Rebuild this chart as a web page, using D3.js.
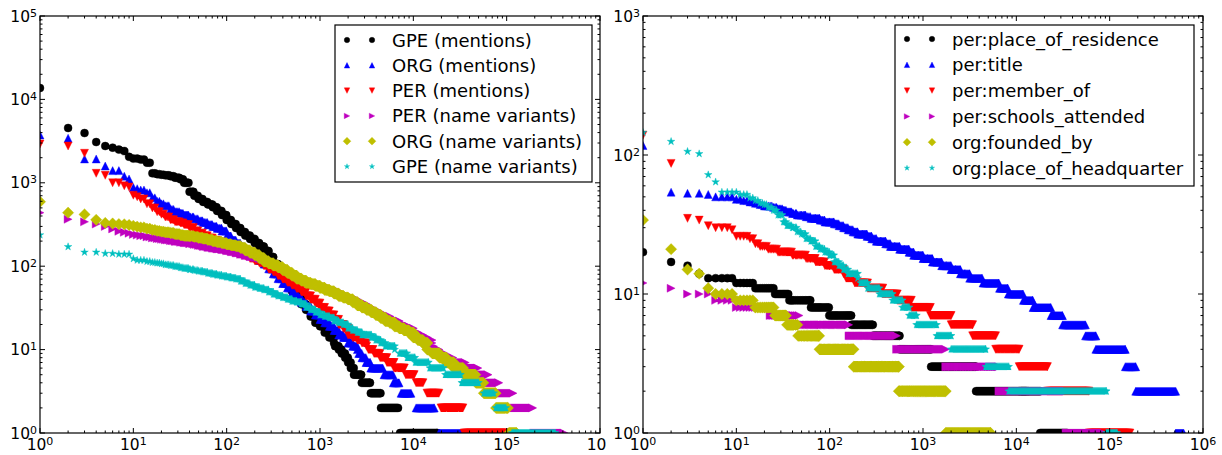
<!DOCTYPE html>
<html><head><meta charset="utf-8">
<script src="https://cdn.jsdelivr.net/npm/d3@7"></script>
<style>body{margin:0;background:#fff}svg{display:block}text{font-family:"DejaVu Sans",sans-serif;fill:#000}</style>
</head><body><svg id="c" width="1222" height="455"></svg>
<script>
// ---------------- DATA ----------------
// shared rank grid for the dense head of each rank-frequency curve
// (each value holds from its grid rank up to the next grid rank - 1)
const rankGrid = [1,2,3,4,5,6,7,8,9,10,11,12,14,16,18,20,22,25,28,32,35,40,45,50,56,63,71,79,89,100,112,126,141,158,178,200,224,251,282,316,355,398,447,501,562,631,708,794,891,1000,1122,1259,1413,1585,1778,1995,2239,2512,2818,3162,3548,3981,4467,5012,5623,6310,7079,7943,8913,10000,11220,12589,14125,15849];

const leftSeriesNames = ["GPE (mentions)","ORG (mentions)","PER (mentions)","PER (name variants)","ORG (name variants)","GPE (name variants)"];
const rightSeriesNames = ["per:place_of_residence","per:title","per:member_of","per:schools_attended","org:founded_by","org:place_of_headquarter"];
const seriesColors = ["#000000","#0000ff","#ff0000","#bf00bf","#bfbf00","#00bfbf"];
const seriesMarkers = ["circle","triangleUp","triangleDown","triangleRight","diamond","star"];
const xTickExponents = [0,1,2,3,4,5,6];
const leftYTickExponents = [0,1,2,3,4,5];
const rightYTickExponents = [0,1,2,3];

// values aligned with rankGrid; runs = [value, fromRank, toRank]
const gpeMentions = [13700,4540,3950,3080,2760,2640,2500,2400,2050,1950,1950,1900,1740,1300,1270,1250,1230,1200,1150,1100,1000,780,700,640,590,550,510,460,410,358,321,287,257,233,212,190,172,152,129,106,90,74,60,50,42,35,30,25,21,19,16,14,12];
const gpeMentionsRuns = [[11,1450,1580],[10,1590,1700],[9,1710,1850],[8,1860,1990],[7,2000,2130],[6,2140,2300],[5,2310,2760],[4,2800,3430],[3,3500,4450],[2,4500,6860],[1,7200,18000]];
const orgMentions = [3740,3420,1930,1930,1590,1400,1400,1200,1110,880,850,820,760,660,600,560,530,480,450,430,410,390,370,350,335,315,300,285,265,230,206,188,171,156,142,129,117,106,93,81,71,62,55,48,42,37,33,29,26,23,21,19,17,15,14,12,11,10];
const orgMentionsRuns = [[9,2600,2800],[8,2810,3100],[7,3110,3450],[6,3500,4700],[5,4850,6060],[4,6100,7030],[3,7380,9440],[2,10700,16700],[1,18800,45000]];
const perMentions = [2920,2760,2260,1300,1230,1000,1000,920,890,710,680,640,560,500,450,420,390,360,340,330,315,290,265,248,231,217,204,194,183,172,162,152,142,133,124,116,109,101,92,85,77,70,64,59,54,49,44,40,36,32,29,26,23,20,18,15,14,13,12,11];
const perMentionsRuns = [[10,3300,3700],[9,3800,4400],[8,4410,5200],[7,5210,6200],[6,6210,8000],[5,8300,10200],[4,10700,12700],[3,14000,18800],[2,19800,34000],[1,34900,100000]];
const perVariants = [438,365,340,320,300,280,262,255,248,240,236,232,224,218,214,210,206,202,198,194,191,187,182,177,172,168,164,161,158,153,149,144,139,134,130,127,124,118,112,105,99,92,86,80,74,70,66,62,59,57,55,52,50,47,44,42,40,37,35,32,30,28,26,25,23,22,20,19,18,16,15,14,13,12];
const perVariantsRuns = [[11,16000,16400],[10,16500,18800],[9,19000,21500],[8,22000,26500],[7,27000,36000],[6,37000,49000],[5,50000,63000],[4,64000,82000],[3,83000,117000],[2,120000,190000],[1,195000,410000]];
const orgVariants = [593,438,418,360,330,325,320,318,312,305,298,292,282,272,265,260,255,250,243,236,232,230,225,219,214,207,200,195,189,183,178,174,166,155,145,136,125,114,108,102,97,90,83,77,71,67,63,61,58,55,52,50,47,44,42,40,37,34,32,30,28,26,24,22,21,19,18,17,16,14,13,12,10];
const orgVariantsRuns = [[9,16000,19000],[8,19100,22500],[7,22600,27000],[6,27100,34000],[5,35000,46000],[4,47000,56000],[3,57000,76000],[2,77000,103000],[1,106000,127000]];
const gpeVariants = [237,171,147,147,142,142,139,139,139,123,118,118,114,111,109,107,104,102,99,96,94,91,89,87,85,82,80,78,76,74,72,70,66,62,59,56,54,52,49,46,44,42,40,38,37,35,32,30,28,26,25,24,22,21,20,18,17,16,15,15,14,13,12,11,11,10];
const gpeVariantsRuns = [[9,7100,8500],[8,8600,10400],[7,10500,14500],[6,15000,21000],[5,22000,32000],[4,33000,50000],[3,57000,72800],[2,76600,98000],[1,114000,330000]];

const placeOfResidence = [20,17,16,14];
const placeOfResidenceRuns = [[13,5,9],[12,10,15],[11,16,25],[10,26,36],[9,37,62],[8,63,98],[7,99,170],[6,171,290],[5,291,560],[4,561,1220],[3,1221,3700],[2,3701,18000],[1,18001,35000]];
const title = [117,54,53,53,52,50,50,50,50,48,48,47,46,45,44,43,43,42,41,40,39,38,37,37,36,35,35,34,33,33,32,31,30,29,28,27,27,26,25,24,24,23,22,22,21,21,20,19,19,18,18,17,17,16,16,15,15,14,14,13];
const titleRuns = [[13,3300,4300],[12,4400,6500],[11,6600,8100],[10,8200,11800],[9,11900,15000],[8,15100,23400],[7,23500,31200],[6,31300,55000],[5,55100,71000],[4,71100,147000],[3,147100,190000],[2,190100,510000],[1,510100,620000]];
const memberOf = [139,87,35,34,31,30,30,30,29,26,26,26,25,23,22,22,21,21,20,20,20,19,19,19,18,18,17,17,16,16,15,15,14];
const memberOfRuns = [[13,150,185],[12,186,255],[11,256,370],[10,371,530],[9,531,750],[8,751,1200],[7,1201,2000],[6,2001,3400],[5,3401,6000],[4,6001,10700],[3,10701,21500],[2,21501,60000],[1,60001,165000]];
const schoolsAttended = [12,11,10,10,10,9,9,9,9];
const schoolsAttendedRuns = [[8,10,22],[7,23,47],[6,48,160],[5,161,520],[4,521,1750],[3,1751,6500],[2,6501,34000],[1,34001,85000]];
const foundedBy = [34,21,15,14,11,10,10,10,10];
const foundedByRuns = [[9,10,15],[8,16,25],[7,26,34],[6,35,45],[5,46,77],[4,78,180],[3,181,550],[2,551,1750],[1,1751,5300]];
const headquarter = [145,125,106,102,72,64,54,54,54,54,52,52,49,47,45,44,42,40,37,33,31,30,28,27,25,24,22,21,20,19,17,16,15,14,14,13];
const headquarterRuns = [[12,215,255],[11,256,340],[10,341,470],[9,471,600],[8,601,710],[7,711,850],[6,851,1400],[5,1401,2000],[4,2001,4700],[3,4701,8300],[2,8301,92000],[1,92001,120000]];

// ---------------- DRAWING ----------------
const svg = d3.select('#c');
svg.append('rect').attr('width',1222).attr('height',455).attr('fill','#fff');
const defs = svg.append('defs');

function markerD(type, cx, cy, s){
  const h = s/2; const f = v => v.toFixed(2);
  switch(type){
    case 'circle': return `M${f(cx+h)},${f(cy)}A${h},${h} 0 1,1 ${f(cx-h)},${f(cy)}A${h},${h} 0 1,1 ${f(cx+h)},${f(cy)}Z`;
    case 'triangleUp': return `M${f(cx)},${f(cy-h)}L${f(cx+h)},${f(cy+h)}L${f(cx-h)},${f(cy+h)}Z`;
    case 'triangleDown': return `M${f(cx)},${f(cy+h)}L${f(cx-h)},${f(cy-h)}L${f(cx+h)},${f(cy-h)}Z`;
    case 'triangleRight': return `M${f(cx+h)},${f(cy)}L${f(cx-h)},${f(cy+h)}L${f(cx-h)},${f(cy-h)}Z`;
    case 'diamond': { const d = s*0.7071; return `M${f(cx)},${f(cy-d)}L${f(cx+d)},${f(cy)}L${f(cx)},${f(cy+d)}L${f(cx-d)},${f(cy)}Z`; }
    case 'star': {
      let p = ''; const R = h, r = h*0.382;
      for (let i=0;i<10;i++){ const a = -Math.PI/2 + i*Math.PI/5; const rr = i%2? r : R;
        p += (i? 'L':'M') + f(cx+rr*Math.cos(a)) + ',' + f(cy+rr*Math.sin(a)); }
      return p + 'Z';
    }
  }
}

// markers at integer ranks of a constant-value stretch, thinned to ~1 px spacing
function pushRun(pts, v, a, b, xs){
  let r = a, last = null;
  while (r <= b){
    pts.push([r,v]); last = r;
    const nr = Math.ceil(xs.invert(xs(r) + 1.0));
    r = Math.max(r+1, nr);
  }
  if (last !== b) pts.push([b,v]);
}

function seriesPoints(values, runs, xs){
  const pts = [];
  const firstRun = runs.length ? runs[0][1] : Infinity;
  values.forEach((v,i) => {
    const a = rankGrid[i];
    const nextR = (i+1 < values.length) ? rankGrid[i+1] - 1 : Math.min(a, firstRun - 1);
    pushRun(pts, v, a, Math.max(a, nextR), xs);
  });
  runs.forEach(([v,a,b]) => pushRun(pts, v, a, b, xs));
  return pts;
}

const panels = [
  { xs: d3.scaleLog().domain([1,1e6]).range([40,600]), ys: d3.scaleLog().domain([1,1e5]).range([433,16]),
    yExps: leftYTickExponents, names: leftSeriesNames,
    data: [[gpeMentions,gpeMentionsRuns],[orgMentions,orgMentionsRuns],[perMentions,perMentionsRuns],[perVariants,perVariantsRuns],[orgVariants,orgVariantsRuns],[gpeVariants,gpeVariantsRuns]],
    legend: {x:335, y:25, w:257, h:157, m1:347, m2:372, tx:392, row0:40, dy:25.3}, fig:[0,606] },
  { xs: d3.scaleLog().domain([1,1e6]).range([643,1203]), ys: d3.scaleLog().domain([1,1e3]).range([433,16]),
    yExps: rightYTickExponents, names: rightSeriesNames,
    data: [[placeOfResidence,placeOfResidenceRuns],[title,titleRuns],[memberOf,memberOfRuns],[schoolsAttended,schoolsAttendedRuns],[foundedBy,foundedByRuns],[headquarter,headquarterRuns]],
    legend: {x:895, y:25, w:299, h:161, m1:907, m2:932, tx:952, row0:39, dy:25.8}, fig:[606,1222] }
];

panels.forEach((P, pi) => {
  const figId = 'fig'+pi, plotId = 'plot'+pi;
  defs.append('clipPath').attr('id', figId).append('rect').attr('x',P.fig[0]).attr('y',0).attr('width',P.fig[1]-P.fig[0]).attr('height',455);
  const [x0,x1] = P.xs.range(); const [y1,y0] = P.ys.range();
  defs.append('clipPath').attr('id', plotId).append('rect').attr('x',x0).attr('y',y0).attr('width',x1-x0).attr('height',y1-y0);
  const g = svg.append('g').attr('clip-path', `url(#${figId})`);

  // markers
  const plot = g.append('g').attr('clip-path', `url(#${plotId})`);
  P.data.forEach(([vals, runs], si) => {
    const pts = seriesPoints(vals, runs, P.xs);
    const d = pts.map(([r,v]) => markerD(seriesMarkers[si], P.xs(r), P.ys(v), 8)).join('');
    plot.append('path').attr('d', d).attr('fill', seriesColors[si]).attr('stroke', seriesColors[si]).attr('stroke-width', 0.4);
  });

  // ticks
  const tk = g.append('g').attr('stroke','#000').attr('stroke-width',1);
  const xMaxExp = 6;
  for (let k=0;k<=xMaxExp;k++){
    for (let m=1;m<=9;m++){
      if (k===xMaxExp && m>1) break;
      const px = P.xs(m*Math.pow(10,k)); const len = m===1?5:2.5;
      tk.append('line').attr('x1',px).attr('x2',px).attr('y1',y1).attr('y2',y1-len);
      tk.append('line').attr('x1',px).attr('x2',px).attr('y1',y0).attr('y2',y0+len);
    }
  }
  const yMaxExp = P.yExps[P.yExps.length-1];
  for (let k=0;k<=yMaxExp;k++){
    for (let m=1;m<=9;m++){
      if (k===yMaxExp && m>1) break;
      const py = P.ys(m*Math.pow(10,k)); const len = m===1?5:2.5;
      tk.append('line').attr('y1',py).attr('y2',py).attr('x1',x0).attr('x2',x0+len);
      tk.append('line').attr('y1',py).attr('y2',py).attr('x1',x1).attr('x2',x1-len);
    }
  }
  // frame
  g.append('rect').attr('x',x0).attr('y',y0).attr('width',x1-x0).attr('height',y1-y0)
    .attr('fill','none').attr('stroke','#000').attr('stroke-width',1.2);

  // tick labels
  const lab = (sel, k) => { sel.append('tspan').text('10'); sel.append('tspan').attr('dy','-0.45em').attr('font-size','11px').text(k); };
  xTickExponents.forEach(k => {
    const t = g.append('text').attr('x', P.xs(Math.pow(10,k))).attr('y', 450).attr('text-anchor','middle').attr('font-size','15.5px');
    lab(t,k);
  });
  P.yExps.forEach(k => {
    const t = g.append('text').attr('x', x0-3).attr('y', P.ys(Math.pow(10,k))+5.5).attr('text-anchor','end').attr('font-size','15.5px');
    lab(t,k);
  });

  // legend
  const L = P.legend;
  const lg = g.append('g');
  lg.append('rect').attr('x',L.x).attr('y',L.y).attr('width',L.w).attr('height',L.h).attr('fill','#fff').attr('stroke','#000').attr('stroke-width',1.2);
  P.names.forEach((nm, i) => {
    const cy = L.row0 + i*L.dy;
    lg.append('path').attr('d', markerD(seriesMarkers[i], L.m1, cy, 5.5) + markerD(seriesMarkers[i], L.m2, cy, 5.5)).attr('fill', seriesColors[i]).attr('stroke', seriesColors[i]).attr('stroke-width',0.4);
    lg.append('text').attr('x', L.tx).attr('y', cy+6.5).attr('font-size','18px').text(nm);
  });
});
</script></body></html>
